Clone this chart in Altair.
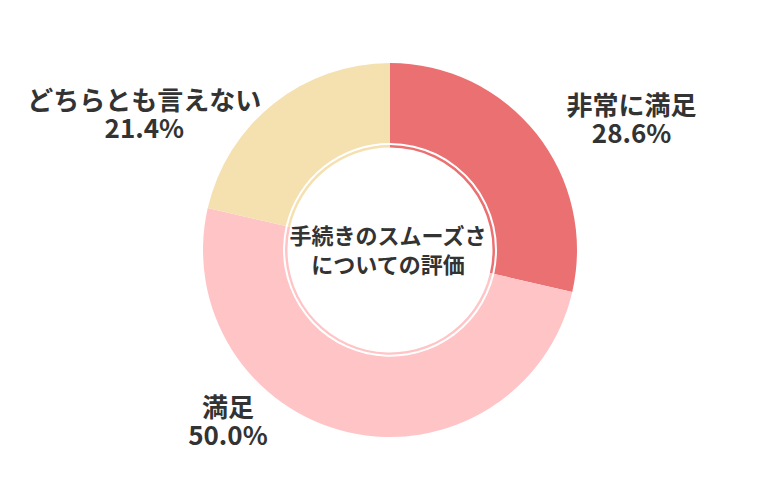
import altair as alt
import pandas as pd

categories = ["非常に満足", "満足", "どちらとも言えない"]
values = [28.6, 50.0, 21.4]
colors = ["#EB7072", "#FFC4C6", "#F5E0B0"]
center_title = "手続きのスムーズさ\nについての評価"

df = pd.DataFrame({
    "category": categories,
    "value": values,
    "order": list(range(len(categories))),
})
df["label"] = [f"{c}\n{v:.1f}%" for c, v in zip(categories, values)]

W, H = 764, 484
FONT = "Noto Sans CJK JP"

color = alt.Color("category:N", scale=alt.Scale(domain=categories, range=colors), legend=None)
theta_scale = alt.Scale(domain=[0, 100])

donut = alt.Chart(df).mark_arc(innerRadius=107, outerRadius=187).encode(
    theta=alt.Theta("value:Q", stack=True, scale=theta_scale),
    color=color,
    order=alt.Order("order:Q"),
)

ring = alt.Chart(df).mark_arc(innerRadius=102.5, outerRadius=105).encode(
    theta=alt.Theta("value:Q", stack=True, scale=theta_scale),
    color=color,
    order=alt.Order("order:Q"),
)


def label_layer(cat, dx, dy):
    return alt.Chart(df).transform_window(
        cum="sum(value)", sort=[alt.SortField("order")], frame=[None, 0]
    ).transform_calculate(
        mid="datum.cum - datum.value / 2"
    ).transform_filter(
        alt.datum.category == cat
    ).mark_text(
        radius=250, dx=dx, dy=dy, font=FONT, fontSize=26, fontWeight="bold",
        color="#333333", lineBreak="\n", lineHeight=28, align="center", baseline="middle",
    ).encode(
        theta=alt.Theta("mid:Q", stack=None, scale=theta_scale),
        text="label:N",
    )


labels = [
    label_layer("非常に満足", 46, 13),
    label_layer("満足", -106, -85),
    label_layer("どちらとも言えない", -90, 48),
]

center = alt.Chart(pd.DataFrame({"t": [center_title]})).mark_text(
    font=FONT, fontSize=22, fontWeight="bold", color="#333333",
    lineBreak="\n", lineHeight=29, align="center", baseline="middle",
).encode(
    x=alt.value(W / 2 - 2),
    y=alt.value(H / 2 - 13),
    text="t:N",
)

chart = alt.layer(donut, ring, *labels, center).properties(
    width=W, height=H, padding=0,
    autosize=alt.AutoSizeParams(type="none"),
).configure_view(strokeWidth=0)

chart.save("out.html", embed_options={"renderer": "svg", "actions": False})
